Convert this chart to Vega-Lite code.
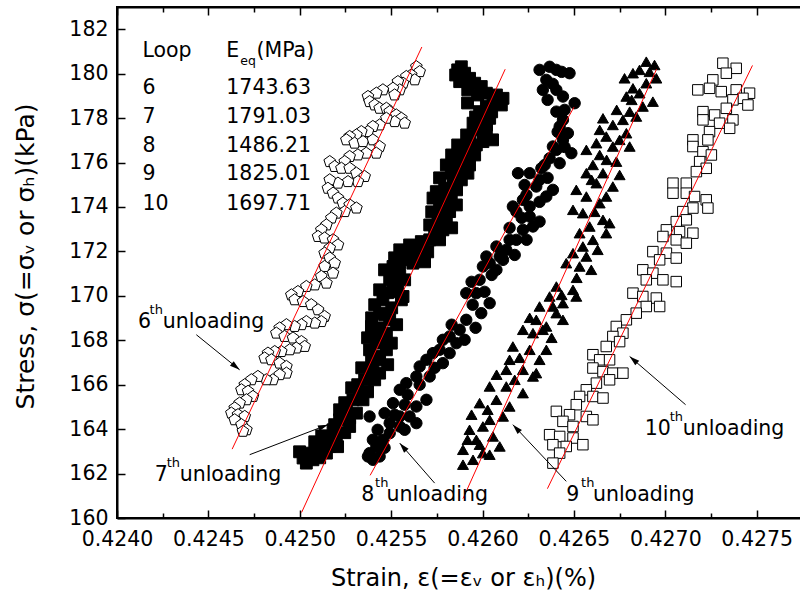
{
  "$schema": "https://vega.github.io/schema/vega-lite/v6.json",
  "width": 700,
  "height": 511,
  "autosize": {"type": "none"},
  "padding": {"left": 117, "top": 7, "right": 0, "bottom": 85},
  "background": "white",
  "config": {
    "font": "DejaVu Sans",
    "view": {"stroke": "black", "strokeWidth": 2},
    "axis": {"grid": false}
  },
  "datasets": {
    "points": [
      {"loop":6,"strain":0.425638,"stress":180.31},{"loop":6,"strain":0.425656,"stress":180.09},{"loop":6,"strain":0.425610,"stress":179.94},{"loop":6,"strain":0.425629,"stress":179.72},{"loop":6,"strain":0.425583,"stress":179.87},{"loop":6,"strain":0.425565,"stress":179.57},{"loop":6,"strain":0.425537,"stress":179.64},{"loop":6,"strain":0.425547,"stress":179.27},{"loop":6,"strain":0.425510,"stress":179.34},{"loop":6,"strain":0.425519,"stress":179.04},
      {"loop":6,"strain":0.425455,"stress":179.27},{"loop":6,"strain":0.425419,"stress":179.12},{"loop":6,"strain":0.425373,"stress":178.97},{"loop":6,"strain":0.425382,"stress":178.74},{"loop":6,"strain":0.425410,"stress":178.59},{"loop":6,"strain":0.425437,"stress":178.44},{"loop":6,"strain":0.425474,"stress":178.44},{"loop":6,"strain":0.425492,"stress":178.29},{"loop":6,"strain":0.425528,"stress":178.14},{"loop":6,"strain":0.425556,"stress":177.99},
      {"loop":6,"strain":0.425574,"stress":177.77},{"loop":6,"strain":0.425519,"stress":177.84},{"loop":6,"strain":0.425474,"stress":177.99},{"loop":6,"strain":0.425437,"stress":177.69},{"loop":6,"strain":0.425400,"stress":177.62},{"loop":6,"strain":0.425373,"stress":177.39},{"loop":6,"strain":0.425337,"stress":177.39},{"loop":6,"strain":0.425310,"stress":177.24},{"loop":6,"strain":0.425273,"stress":177.17},{"loop":6,"strain":0.425255,"stress":177.02},
      {"loop":6,"strain":0.425300,"stress":176.87},{"loop":6,"strain":0.425346,"stress":176.94},{"loop":6,"strain":0.425400,"stress":177.02},{"loop":6,"strain":0.425437,"stress":176.72},{"loop":6,"strain":0.425419,"stress":176.42},{"loop":6,"strain":0.425364,"stress":176.42},{"loop":6,"strain":0.425318,"stress":176.34},{"loop":6,"strain":0.425273,"stress":176.27},{"loop":6,"strain":0.425246,"stress":176.04},{"loop":6,"strain":0.425164,"stress":176.04},
      {"loop":6,"strain":0.425191,"stress":175.82},{"loop":6,"strain":0.425228,"stress":175.74},{"loop":6,"strain":0.425273,"stress":175.74},{"loop":6,"strain":0.425310,"stress":175.52},{"loop":6,"strain":0.425355,"stress":175.37},{"loop":6,"strain":0.425318,"stress":175.14},{"loop":6,"strain":0.425264,"stress":175.14},{"loop":6,"strain":0.425209,"stress":175.07},{"loop":6,"strain":0.425164,"stress":175.22},{"loop":6,"strain":0.425154,"stress":174.84},
      {"loop":6,"strain":0.425182,"stress":174.62},{"loop":6,"strain":0.425209,"stress":174.40},{"loop":6,"strain":0.425236,"stress":174.17},{"loop":6,"strain":0.425273,"stress":174.09},{"loop":6,"strain":0.425310,"stress":173.95},{"loop":6,"strain":0.425246,"stress":173.79},{"loop":6,"strain":0.425200,"stress":173.72},{"loop":6,"strain":0.425173,"stress":173.50},{"loop":6,"strain":0.425146,"stress":173.19},{"loop":6,"strain":0.425118,"stress":172.97},
      {"loop":6,"strain":0.425100,"stress":172.67},{"loop":6,"strain":0.425136,"stress":172.60},{"loop":6,"strain":0.425182,"stress":172.52},{"loop":6,"strain":0.425209,"stress":172.29},{"loop":6,"strain":0.425164,"stress":172.15},{"loop":6,"strain":0.425136,"stress":171.92},{"loop":6,"strain":0.425164,"stress":171.70},{"loop":6,"strain":0.425191,"stress":171.47},{"loop":6,"strain":0.425136,"stress":171.32},{"loop":6,"strain":0.425182,"stress":171.02},
      {"loop":6,"strain":0.425118,"stress":170.87},{"loop":6,"strain":0.425146,"stress":170.57},{"loop":6,"strain":0.425082,"stress":170.49},{"loop":6,"strain":0.425036,"stress":170.42},{"loop":6,"strain":0.424990,"stress":170.19},{"loop":6,"strain":0.424954,"stress":170.04},{"loop":6,"strain":0.424972,"stress":169.82},{"loop":6,"strain":0.425018,"stress":169.74},{"loop":6,"strain":0.425063,"stress":169.60},{"loop":6,"strain":0.425100,"stress":169.37},
      {"loop":6,"strain":0.425136,"stress":169.07},{"loop":6,"strain":0.425118,"stress":168.84},{"loop":6,"strain":0.425082,"stress":168.77},{"loop":6,"strain":0.425036,"stress":168.84},{"loop":6,"strain":0.425009,"stress":168.70},{"loop":6,"strain":0.424972,"stress":168.62},{"loop":6,"strain":0.424927,"stress":168.70},{"loop":6,"strain":0.424890,"stress":168.55},{"loop":6,"strain":0.424872,"stress":168.32},{"loop":6,"strain":0.424917,"stress":168.17},
      {"loop":6,"strain":0.424963,"stress":168.10},{"loop":6,"strain":0.425009,"stress":167.94},{"loop":6,"strain":0.425027,"stress":167.72},{"loop":6,"strain":0.424981,"stress":167.65},{"loop":6,"strain":0.424945,"stress":167.57},{"loop":6,"strain":0.424899,"stress":167.49},{"loop":6,"strain":0.424863,"stress":167.49},{"loop":6,"strain":0.424826,"stress":167.42},{"loop":6,"strain":0.424808,"stress":167.20},{"loop":6,"strain":0.424845,"stress":167.12},
      {"loop":6,"strain":0.424890,"stress":166.97},{"loop":6,"strain":0.424927,"stress":166.82},{"loop":6,"strain":0.424927,"stress":166.52},{"loop":6,"strain":0.424890,"stress":166.45},{"loop":6,"strain":0.424853,"stress":166.22},{"loop":6,"strain":0.424817,"stress":166.22},{"loop":6,"strain":0.424771,"stress":166.37},{"loop":6,"strain":0.424735,"stress":166.22},{"loop":6,"strain":0.424699,"stress":166.00},{"loop":6,"strain":0.424681,"stress":165.77},
      {"loop":6,"strain":0.424717,"stress":165.70},{"loop":6,"strain":0.424744,"stress":165.47},{"loop":6,"strain":0.424708,"stress":165.32},{"loop":6,"strain":0.424671,"stress":165.17},{"loop":6,"strain":0.424644,"stress":164.95},{"loop":6,"strain":0.424626,"stress":164.72},{"loop":6,"strain":0.424662,"stress":164.65},{"loop":6,"strain":0.424699,"stress":164.57},{"loop":6,"strain":0.424644,"stress":164.42},{"loop":6,"strain":0.424681,"stress":164.20},
      {"loop":6,"strain":0.424708,"stress":163.97},{"loop":6,"strain":0.424689,"stress":163.90},

      {"loop":7,"strain":0.425884,"stress":180.31},{"loop":7,"strain":0.425864,"stress":180.17},{"loop":7,"strain":0.425902,"stress":180.02},{"loop":7,"strain":0.425853,"stress":179.94},{"loop":7,"strain":0.425875,"stress":179.64},{"loop":7,"strain":0.425929,"stress":179.79},{"loop":7,"strain":0.425957,"stress":179.57},{"loop":7,"strain":0.425993,"stress":179.42},{"loop":7,"strain":0.425919,"stress":179.27},{"loop":7,"strain":0.426021,"stress":179.12},{"loop":7,"strain":0.426076,"stress":179.04},{"loop":7,"strain":0.425973,"stress":179.04},
      {"loop":7,"strain":0.426112,"stress":178.89},{"loop":7,"strain":0.426103,"stress":178.59},{"loop":7,"strain":0.426057,"stress":178.67},{"loop":7,"strain":0.425918,"stress":178.68},{"loop":7,"strain":0.426021,"stress":178.52},{"loop":7,"strain":0.425984,"stress":178.29},{"loop":7,"strain":0.426050,"stress":178.28},{"loop":7,"strain":0.425962,"stress":178.05},{"loop":7,"strain":0.426002,"stress":177.92},{"loop":7,"strain":0.426039,"stress":177.99},{"loop":7,"strain":0.425948,"stress":177.77},{"loop":7,"strain":0.426022,"stress":177.69},{"loop":7,"strain":0.425975,"stress":177.47},{"loop":7,"strain":0.426021,"stress":177.32},{"loop":7,"strain":0.425913,"stress":177.24},
      {"loop":7,"strain":0.425929,"stress":177.02},{"loop":7,"strain":0.426055,"stress":177.02},{"loop":7,"strain":0.426002,"stress":176.94},{"loop":7,"strain":0.425966,"stress":176.79},{"loop":7,"strain":0.425864,"stress":176.79},{"loop":7,"strain":0.425920,"stress":176.57},{"loop":7,"strain":0.425957,"stress":176.34},{"loop":7,"strain":0.425831,"stress":176.34},{"loop":7,"strain":0.425893,"stress":176.27},{"loop":7,"strain":0.425847,"stress":176.04},{"loop":7,"strain":0.425886,"stress":175.89},{"loop":7,"strain":0.425929,"stress":175.89},{"loop":7,"strain":0.425802,"stress":175.89},{"loop":7,"strain":0.425829,"stress":175.52},{"loop":7,"strain":0.425875,"stress":175.59},
      {"loop":7,"strain":0.425920,"stress":175.52},{"loop":7,"strain":0.425765,"stress":175.31},{"loop":7,"strain":0.425884,"stress":175.22},{"loop":7,"strain":0.425838,"stress":174.99},{"loop":7,"strain":0.425793,"stress":174.84},{"loop":7,"strain":0.425858,"stress":174.77},{"loop":7,"strain":0.425747,"stress":174.69},{"loop":7,"strain":0.425729,"stress":174.40},{"loop":7,"strain":0.425775,"stress":174.32},{"loop":7,"strain":0.425829,"stress":174.40},{"loop":7,"strain":0.425793,"stress":174.18},{"loop":7,"strain":0.425857,"stress":174.09},{"loop":7,"strain":0.425765,"stress":174.00},
      {"loop":7,"strain":0.425820,"stress":173.79},{"loop":7,"strain":0.425722,"stress":173.78},{"loop":7,"strain":0.425775,"stress":173.72},{"loop":7,"strain":0.425756,"stress":173.34},{"loop":7,"strain":0.425802,"stress":173.34},{"loop":7,"strain":0.425711,"stress":173.19},{"loop":7,"strain":0.425831,"stress":173.06},{"loop":7,"strain":0.425783,"stress":172.97},{"loop":7,"strain":0.425738,"stress":172.82},{"loop":7,"strain":0.425711,"stress":172.52},{"loop":7,"strain":0.425765,"stress":172.52},{"loop":7,"strain":0.425665,"stress":172.44},{"loop":7,"strain":0.425674,"stress":172.15},{"loop":7,"strain":0.425601,"stress":172.29},{"loop":7,"strain":0.425547,"stress":172.07},
      {"loop":7,"strain":0.425619,"stress":171.99},{"loop":7,"strain":0.425700,"stress":171.98},{"loop":7,"strain":0.425645,"stress":171.84},{"loop":7,"strain":0.425583,"stress":171.77},{"loop":7,"strain":0.425519,"stress":171.71},{"loop":7,"strain":0.425547,"stress":171.54},{"loop":7,"strain":0.425683,"stress":171.53},{"loop":7,"strain":0.425510,"stress":171.32},{"loop":7,"strain":0.425592,"stress":171.62},{"loop":7,"strain":0.425619,"stress":171.47},{"loop":7,"strain":0.425464,"stress":171.17},{"loop":7,"strain":0.425547,"stress":171.02},{"loop":7,"strain":0.425519,"stress":171.02},{"loop":7,"strain":0.425574,"stress":170.72},{"loop":7,"strain":0.425492,"stress":170.72},{"loop":7,"strain":0.425525,"stress":170.58},{"loop":7,"strain":0.425510,"stress":170.42},
      {"loop":7,"strain":0.425437,"stress":170.27},{"loop":7,"strain":0.425536,"stress":170.18},{"loop":7,"strain":0.425481,"stress":170.14},{"loop":7,"strain":0.425565,"stress":169.97},{"loop":7,"strain":0.425556,"stress":169.82},{"loop":7,"strain":0.425455,"stress":169.82},{"loop":7,"strain":0.425410,"stress":169.60},{"loop":7,"strain":0.425503,"stress":169.46},{"loop":7,"strain":0.425437,"stress":169.22},{"loop":7,"strain":0.425464,"stress":169.15},{"loop":7,"strain":0.425393,"stress":169.01},{"loop":7,"strain":0.425492,"stress":168.92},{"loop":7,"strain":0.425530,"stress":168.70},{"loop":7,"strain":0.425392,"stress":168.62},{"loop":7,"strain":0.425437,"stress":168.56},{"loop":7,"strain":0.425474,"stress":168.32},{"loop":7,"strain":0.425410,"stress":168.25},{"loop":7,"strain":0.425371,"stress":168.11},{"loop":7,"strain":0.425448,"stress":168.02},{"loop":7,"strain":0.425419,"stress":167.87},
      {"loop":7,"strain":0.425501,"stress":167.87},{"loop":7,"strain":0.425474,"stress":167.57},{"loop":7,"strain":0.425382,"stress":167.57},{"loop":7,"strain":0.425428,"stress":167.27},{"loop":7,"strain":0.425437,"stress":167.12},{"loop":7,"strain":0.425393,"stress":167.12},{"loop":7,"strain":0.425481,"stress":166.90},{"loop":7,"strain":0.425339,"stress":166.76},{"loop":7,"strain":0.425400,"stress":166.67},{"loop":7,"strain":0.425437,"stress":166.52},{"loop":7,"strain":0.425355,"stress":166.22},{"loop":7,"strain":0.425410,"stress":166.22},{"loop":7,"strain":0.425317,"stress":166.00},{"loop":7,"strain":0.425284,"stress":165.86},{"loop":7,"strain":0.425371,"stress":165.68},{"loop":7,"strain":0.425328,"stress":165.62},
      {"loop":7,"strain":0.425346,"stress":165.32},{"loop":7,"strain":0.425291,"stress":165.32},{"loop":7,"strain":0.425246,"stress":165.19},{"loop":7,"strain":0.425255,"stress":164.87},{"loop":7,"strain":0.425218,"stress":164.87},{"loop":7,"strain":0.425310,"stress":164.72},{"loop":7,"strain":0.425235,"stress":164.51},{"loop":7,"strain":0.425273,"stress":164.51},{"loop":7,"strain":0.425218,"stress":164.42},{"loop":7,"strain":0.425191,"stress":164.20},{"loop":7,"strain":0.425273,"stress":164.12},{"loop":7,"strain":0.425182,"stress":163.97},{"loop":7,"strain":0.425246,"stress":163.84},{"loop":7,"strain":0.425120,"stress":163.70},{"loop":7,"strain":0.425200,"stress":163.52},
      {"loop":7,"strain":0.425154,"stress":163.67},{"loop":7,"strain":0.425136,"stress":163.43},{"loop":7,"strain":0.425082,"stress":163.43},{"loop":7,"strain":0.425164,"stress":163.22},{"loop":7,"strain":0.425207,"stress":163.21},{"loop":7,"strain":0.425109,"stress":163.07},{"loop":7,"strain":0.424999,"stress":162.98},{"loop":7,"strain":0.425054,"stress":162.92},{"loop":7,"strain":0.425018,"stress":162.70},{"loop":7,"strain":0.425109,"stress":162.71},{"loop":7,"strain":0.425072,"stress":162.62},{"loop":7,"strain":0.425146,"stress":162.92},{"loop":7,"strain":0.425036,"stress":162.47},

      {"loop":8,"strain":0.426312,"stress":180.17},{"loop":8,"strain":0.426367,"stress":180.31},{"loop":8,"strain":0.426404,"stress":180.17},{"loop":8,"strain":0.426433,"stress":180.08},{"loop":8,"strain":0.426476,"stress":180.02},{"loop":8,"strain":0.426349,"stress":179.72},{"loop":8,"strain":0.426384,"stress":179.54},{"loop":8,"strain":0.426330,"stress":179.27},{"loop":8,"strain":0.426404,"stress":179.27},{"loop":8,"strain":0.426440,"stress":178.97},{"loop":8,"strain":0.426356,"stress":178.82},{"loop":8,"strain":0.426504,"stress":178.67},{"loop":8,"strain":0.426449,"stress":178.37},{"loop":8,"strain":0.426404,"stress":178.29},
      {"loop":8,"strain":0.426440,"stress":177.92},{"loop":8,"strain":0.426422,"stress":177.62},{"loop":8,"strain":0.426411,"stress":177.38},{"loop":8,"strain":0.426467,"stress":177.32},{"loop":8,"strain":0.426440,"stress":177.02},{"loop":8,"strain":0.426385,"stress":176.72},{"loop":8,"strain":0.426449,"stress":176.70},{"loop":8,"strain":0.426486,"stress":176.42},{"loop":8,"strain":0.426404,"stress":176.57},{"loop":8,"strain":0.426367,"stress":176.19},{"loop":8,"strain":0.426422,"stress":175.97},{"loop":8,"strain":0.426340,"stress":175.89},{"loop":8,"strain":0.426322,"stress":175.74},
      {"loop":8,"strain":0.426258,"stress":175.52},{"loop":8,"strain":0.426194,"stress":175.52},{"loop":8,"strain":0.426356,"stress":175.31},{"loop":8,"strain":0.426312,"stress":175.22},{"loop":8,"strain":0.426230,"stress":174.99},{"loop":8,"strain":0.426294,"stress":174.92},{"loop":8,"strain":0.426240,"stress":174.54},{"loop":8,"strain":0.426385,"stress":174.77},{"loop":8,"strain":0.426349,"stress":174.47},{"loop":8,"strain":0.426221,"stress":174.32},{"loop":8,"strain":0.426312,"stress":174.23},{"loop":8,"strain":0.426258,"stress":174.02},{"loop":8,"strain":0.426166,"stress":174.02},
      {"loop":8,"strain":0.426185,"stress":173.79},{"loop":8,"strain":0.426258,"stress":173.57},{"loop":8,"strain":0.426214,"stress":173.51},{"loop":8,"strain":0.426312,"stress":173.34},{"loop":8,"strain":0.426276,"stress":173.12},{"loop":8,"strain":0.426148,"stress":173.06},{"loop":8,"strain":0.426221,"stress":172.97},{"loop":8,"strain":0.426185,"stress":172.52},{"loop":8,"strain":0.426241,"stress":172.52},{"loop":8,"strain":0.426148,"stress":172.52},{"loop":8,"strain":0.426130,"stress":172.07},{"loop":8,"strain":0.426076,"stress":172.22},{"loop":8,"strain":0.426176,"stress":171.84},{"loop":8,"strain":0.426094,"stress":171.77},
      {"loop":8,"strain":0.426021,"stress":171.77},{"loop":8,"strain":0.426112,"stress":171.62},{"loop":8,"strain":0.426002,"stress":171.32},{"loop":8,"strain":0.426076,"stress":171.17},{"loop":8,"strain":0.426039,"stress":171.47},{"loop":8,"strain":0.426050,"stress":170.94},{"loop":8,"strain":0.425984,"stress":170.72},{"loop":8,"strain":0.425940,"stress":170.63},{"loop":8,"strain":0.426011,"stress":170.18},{"loop":8,"strain":0.425911,"stress":170.12},{"loop":8,"strain":0.425966,"stress":170.12},{"loop":8,"strain":0.426039,"stress":169.67},{"loop":8,"strain":0.425946,"stress":169.60},{"loop":8,"strain":0.425993,"stress":169.22},
      {"loop":8,"strain":0.425911,"stress":168.92},{"loop":8,"strain":0.425831,"stress":168.70},{"loop":8,"strain":0.425962,"stress":168.56},{"loop":8,"strain":0.425875,"stress":168.47},{"loop":8,"strain":0.425820,"stress":168.17},{"loop":8,"strain":0.425783,"stress":168.02},{"loop":8,"strain":0.425902,"stress":168.02},{"loop":8,"strain":0.425857,"stress":167.87},{"loop":8,"strain":0.425765,"stress":167.57},{"loop":8,"strain":0.425820,"stress":167.42},{"loop":8,"strain":0.425729,"stress":167.42},{"loop":8,"strain":0.425693,"stress":167.12},{"loop":8,"strain":0.425783,"stress":166.97},{"loop":8,"strain":0.425656,"stress":166.82},{"loop":8,"strain":0.425738,"stress":166.76},
      {"loop":8,"strain":0.425638,"stress":166.37},{"loop":8,"strain":0.425711,"stress":166.37},{"loop":8,"strain":0.425583,"stress":166.07},{"loop":8,"strain":0.425656,"stress":166.00},{"loop":8,"strain":0.425547,"stress":165.77},{"loop":8,"strain":0.425590,"stress":165.55},{"loop":8,"strain":0.425693,"stress":165.32},{"loop":8,"strain":0.425574,"stress":165.10},{"loop":8,"strain":0.425638,"stress":165.02},{"loop":8,"strain":0.425510,"stress":165.17},{"loop":8,"strain":0.425519,"stress":164.65},{"loop":8,"strain":0.425601,"stress":164.57},{"loop":8,"strain":0.425638,"stress":164.27},{"loop":8,"strain":0.425547,"stress":164.12},{"loop":8,"strain":0.425574,"stress":163.97},
      {"loop":8,"strain":0.425547,"stress":164.57},{"loop":8,"strain":0.425492,"stress":163.82},{"loop":8,"strain":0.425426,"stress":163.97},{"loop":8,"strain":0.425492,"stress":164.27},{"loop":8,"strain":0.425455,"stress":163.52},{"loop":8,"strain":0.425419,"stress":163.22},{"loop":8,"strain":0.425464,"stress":163.16},{"loop":8,"strain":0.425382,"stress":162.92},{"loop":8,"strain":0.425437,"stress":162.77},{"loop":8,"strain":0.425400,"stress":162.62},{"loop":8,"strain":0.425382,"stress":164.57},{"loop":8,"strain":0.425464,"stress":164.72},
      {"loop":8,"strain":0.425400,"stress":163.52},{"loop":8,"strain":0.425373,"stress":162.77},

      {"loop":9,"strain":0.426896,"stress":180.54},{"loop":9,"strain":0.426941,"stress":180.39},{"loop":9,"strain":0.426859,"stress":180.17},{"loop":9,"strain":0.426914,"stress":180.08},{"loop":9,"strain":0.426823,"stress":180.02},{"loop":9,"strain":0.426777,"stress":179.79},{"loop":9,"strain":0.426951,"stress":179.79},{"loop":9,"strain":0.426896,"stress":179.57},{"loop":9,"strain":0.426823,"stress":179.34},{"loop":9,"strain":0.426859,"stress":179.12},{"loop":9,"strain":0.426787,"stress":178.97},{"loop":9,"strain":0.426816,"stress":178.82},
      {"loop":9,"strain":0.426932,"stress":178.74},{"loop":9,"strain":0.426877,"stress":178.52},{"loop":9,"strain":0.426734,"stress":178.37},{"loop":9,"strain":0.426805,"stress":178.29},{"loop":9,"strain":0.426841,"stress":178.07},{"loop":9,"strain":0.426768,"stress":177.92},{"loop":9,"strain":0.426659,"stress":177.99},{"loop":9,"strain":0.426713,"stress":177.69},{"loop":9,"strain":0.426641,"stress":177.47},{"loop":9,"strain":0.426677,"stress":177.17},{"loop":9,"strain":0.426787,"stress":177.32},{"loop":9,"strain":0.426750,"stress":177.02},
      {"loop":9,"strain":0.426623,"stress":176.87},{"loop":9,"strain":0.426568,"stress":176.57},{"loop":9,"strain":0.426713,"stress":176.72},{"loop":9,"strain":0.426805,"stress":176.72},{"loop":9,"strain":0.426641,"stress":176.34},{"loop":9,"strain":0.426679,"stress":176.12},{"loop":9,"strain":0.426732,"stress":176.04},{"loop":9,"strain":0.426604,"stress":175.89},{"loop":9,"strain":0.426568,"stress":175.52},{"loop":9,"strain":0.426659,"stress":175.52},{"loop":9,"strain":0.426750,"stress":175.44},{"loop":9,"strain":0.426597,"stress":175.22},{"loop":9,"strain":0.426623,"stress":175.07},
      {"loop":9,"strain":0.426713,"stress":174.92},{"loop":9,"strain":0.426513,"stress":174.77},{"loop":9,"strain":0.426568,"stress":174.47},{"loop":9,"strain":0.426677,"stress":174.47},{"loop":9,"strain":0.426641,"stress":174.17},{"loop":9,"strain":0.426495,"stress":173.87},{"loop":9,"strain":0.426613,"stress":173.78},{"loop":9,"strain":0.426549,"stress":173.72},{"loop":9,"strain":0.426659,"stress":173.42},{"loop":9,"strain":0.426695,"stress":173.27},{"loop":9,"strain":0.426586,"stress":173.12},
      {"loop":9,"strain":0.426531,"stress":172.82},{"loop":9,"strain":0.426677,"stress":172.82},{"loop":9,"strain":0.426604,"stress":172.52},{"loop":9,"strain":0.426549,"stress":172.22},{"loop":9,"strain":0.426630,"stress":172.07},{"loop":9,"strain":0.426495,"stress":171.92},{"loop":9,"strain":0.426568,"stress":171.77},{"loop":9,"strain":0.426458,"stress":171.47},{"loop":9,"strain":0.426531,"stress":171.32},{"loop":9,"strain":0.426595,"stress":171.17},{"loop":9,"strain":0.426515,"stress":170.81},{"loop":9,"strain":0.426404,"stress":170.42},
      {"loop":9,"strain":0.426495,"stress":170.27},{"loop":9,"strain":0.426433,"stress":170.04},{"loop":9,"strain":0.426367,"stress":169.97},{"loop":9,"strain":0.426513,"stress":169.97},{"loop":9,"strain":0.426440,"stress":169.67},{"loop":9,"strain":0.426312,"stress":169.52},{"loop":9,"strain":0.426385,"stress":169.52},{"loop":9,"strain":0.426404,"stress":169.22},{"loop":9,"strain":0.426258,"stress":169.01},{"loop":9,"strain":0.426294,"stress":168.92},{"loop":9,"strain":0.426440,"stress":168.92},{"loop":9,"strain":0.426349,"stress":168.62},
      {"loop":9,"strain":0.426221,"stress":168.47},{"loop":9,"strain":0.426330,"stress":168.47},{"loop":9,"strain":0.426276,"stress":168.32},{"loop":9,"strain":0.426378,"stress":168.11},{"loop":9,"strain":0.426166,"stress":167.72},{"loop":9,"strain":0.426258,"stress":167.57},{"loop":9,"strain":0.426349,"stress":167.57},{"loop":9,"strain":0.426203,"stress":167.21},{"loop":9,"strain":0.426148,"stress":167.12},{"loop":9,"strain":0.426312,"stress":167.12},{"loop":9,"strain":0.426130,"stress":166.67},{"loop":9,"strain":0.426221,"stress":166.67},
      {"loop":9,"strain":0.426294,"stress":166.52},{"loop":9,"strain":0.426077,"stress":166.45},{"loop":9,"strain":0.426276,"stress":166.37},{"loop":9,"strain":0.426176,"stress":166.22},{"loop":9,"strain":0.426039,"stress":165.92},{"loop":9,"strain":0.426130,"stress":165.92},{"loop":9,"strain":0.426221,"stress":165.62},{"loop":9,"strain":0.425984,"stress":165.17},{"loop":9,"strain":0.426076,"stress":165.32},{"loop":9,"strain":0.426148,"stress":165.02},{"loop":9,"strain":0.426028,"stress":164.87},{"loop":9,"strain":0.425940,"stress":164.65},{"loop":9,"strain":0.426112,"stress":164.57},{"loop":9,"strain":0.426039,"stress":164.42},
      {"loop":9,"strain":0.426002,"stress":164.12},{"loop":9,"strain":0.425929,"stress":163.97},{"loop":9,"strain":0.426057,"stress":163.67},{"loop":9,"strain":0.425966,"stress":163.52},{"loop":9,"strain":0.425918,"stress":163.52},{"loop":9,"strain":0.425984,"stress":163.30},{"loop":9,"strain":0.426094,"stress":163.22},{"loop":9,"strain":0.425893,"stress":163.07},{"loop":9,"strain":0.426002,"stress":162.92},{"loop":9,"strain":0.426039,"stress":162.85},{"loop":9,"strain":0.425948,"stress":162.62},{"loop":9,"strain":0.425893,"stress":162.40},

      {"loop":10,"strain":0.427315,"stress":180.47},{"loop":10,"strain":0.427388,"stress":180.24},{"loop":10,"strain":0.427334,"stress":180.02},{"loop":10,"strain":0.427260,"stress":179.72},{"loop":10,"strain":0.427178,"stress":179.27},{"loop":10,"strain":0.427242,"stress":179.34},{"loop":10,"strain":0.427306,"stress":179.19},{"loop":10,"strain":0.427388,"stress":179.27},{"loop":10,"strain":0.427461,"stress":179.12},{"loop":10,"strain":0.427425,"stress":178.89},
      {"loop":10,"strain":0.427452,"stress":178.59},{"loop":10,"strain":0.427370,"stress":178.82},{"loop":10,"strain":0.427334,"stress":178.44},{"loop":10,"strain":0.427206,"stress":178.29},{"loop":10,"strain":0.427270,"stress":178.14},{"loop":10,"strain":0.427206,"stress":177.92},{"loop":10,"strain":0.427370,"stress":177.92},{"loop":10,"strain":0.427297,"stress":177.77},{"loop":10,"strain":0.427352,"stress":177.54},{"loop":10,"strain":0.427242,"stress":177.39},
      {"loop":10,"strain":0.427151,"stress":177.02},{"loop":10,"strain":0.427233,"stress":177.02},{"loop":10,"strain":0.427151,"stress":176.72},{"loop":10,"strain":0.427206,"stress":176.49},{"loop":10,"strain":0.427252,"stress":176.34},{"loop":10,"strain":0.427188,"stress":176.04},{"loop":10,"strain":0.427224,"stress":175.74},{"loop":10,"strain":0.427170,"stress":175.59},{"loop":10,"strain":0.427042,"stress":175.07},{"loop":10,"strain":0.427115,"stress":175.07},
      {"loop":10,"strain":0.427042,"stress":174.62},{"loop":10,"strain":0.427115,"stress":174.62},{"loop":10,"strain":0.427160,"stress":174.47},{"loop":10,"strain":0.427224,"stress":174.32},{"loop":10,"strain":0.427151,"stress":173.95},{"loop":10,"strain":0.427233,"stress":173.95},{"loop":10,"strain":0.427096,"stress":173.79},{"loop":10,"strain":0.427115,"stress":173.42},{"loop":10,"strain":0.427060,"stress":173.34},{"loop":10,"strain":0.427006,"stress":172.97},
      {"loop":10,"strain":0.427078,"stress":172.89},{"loop":10,"strain":0.427151,"stress":172.82},{"loop":10,"strain":0.426987,"stress":172.67},{"loop":10,"strain":0.427060,"stress":172.52},{"loop":10,"strain":0.427115,"stress":172.37},{"loop":10,"strain":0.426932,"stress":171.99},{"loop":10,"strain":0.427006,"stress":171.92},{"loop":10,"strain":0.427060,"stress":171.70},{"loop":10,"strain":0.426969,"stress":171.62},{"loop":10,"strain":0.426877,"stress":171.17},
      {"loop":10,"strain":0.426932,"stress":171.02},{"loop":10,"strain":0.426987,"stress":170.72},{"loop":10,"strain":0.427060,"stress":170.64},{"loop":10,"strain":0.426896,"stress":170.72},{"loop":10,"strain":0.426823,"stress":170.12},{"loop":10,"strain":0.426877,"stress":169.97},{"loop":10,"strain":0.426951,"stress":169.90},{"loop":10,"strain":0.426969,"stress":169.52},{"loop":10,"strain":0.426896,"stress":169.52},{"loop":10,"strain":0.426841,"stress":169.22},
      {"loop":10,"strain":0.426787,"stress":168.92},{"loop":10,"strain":0.426732,"stress":168.62},{"loop":10,"strain":0.426768,"stress":168.32},{"loop":10,"strain":0.426713,"stress":168.17},{"loop":10,"strain":0.426750,"stress":167.94},{"loop":10,"strain":0.426677,"stress":167.72},{"loop":10,"strain":0.426604,"stress":167.35},{"loop":10,"strain":0.426641,"stress":167.12},{"loop":10,"strain":0.426695,"stress":167.12},{"loop":10,"strain":0.426604,"stress":166.75},
      {"loop":10,"strain":0.426659,"stress":166.59},{"loop":10,"strain":0.426713,"stress":166.52},{"loop":10,"strain":0.426768,"stress":166.52},{"loop":10,"strain":0.426695,"stress":166.22},{"loop":10,"strain":0.426623,"stress":166.07},{"loop":10,"strain":0.426568,"stress":165.77},{"loop":10,"strain":0.426531,"stress":165.47},{"loop":10,"strain":0.426604,"stress":165.47},{"loop":10,"strain":0.426659,"stress":165.40},{"loop":10,"strain":0.426513,"stress":165.10},
      {"loop":10,"strain":0.426404,"stress":164.80},{"loop":10,"strain":0.426476,"stress":164.65},{"loop":10,"strain":0.426568,"stress":164.57},{"loop":10,"strain":0.426604,"stress":164.42},{"loop":10,"strain":0.426440,"stress":164.35},{"loop":10,"strain":0.426495,"stress":164.12},{"loop":10,"strain":0.426367,"stress":163.75},{"loop":10,"strain":0.426422,"stress":163.67},{"loop":10,"strain":0.426495,"stress":163.60},{"loop":10,"strain":0.426549,"stress":163.30},
      {"loop":10,"strain":0.426458,"stress":163.22},{"loop":10,"strain":0.426385,"stress":163.30},{"loop":10,"strain":0.426422,"stress":162.92},{"loop":10,"strain":0.426385,"stress":162.47}
    ],
    "fits": [
      {"loop":6,"strain":0.424630,"stress":163.10},{"loop":6,"strain":0.425668,"stress":181.20},
      {"loop":7,"strain":0.425010,"stress":160.25},{"loop":7,"strain":0.426124,"stress":180.20},
      {"loop":8,"strain":0.425385,"stress":161.92},{"loop":8,"strain":0.426500,"stress":178.49},
      {"loop":9,"strain":0.425893,"stress":160.87},{"loop":9,"strain":0.426952,"stress":180.20},
      {"loop":10,"strain":0.426355,"stress":161.32},{"loop":10,"strain":0.427477,"stress":180.37}
    ],
    "arrows": [
      {"from_strain":0.424434,"from_stress":168.25,"to_strain":0.424671,"to_stress":166.67,"heading":128.9},
      {"from_strain":0.424726,"from_stress":162.85,"to_strain":0.425154,"to_stress":164.20,"heading":69.0},
      {"from_strain":0.425738,"from_stress":161.57,"to_strain":0.425547,"to_stress":163.37,"heading":318.8},
      {"from_strain":0.426458,"from_stress":161.65,"to_strain":0.426166,"to_stress":164.20,"heading":316.7},
      {"from_strain":0.427111,"from_stress":165.10,"to_strain":0.426805,"to_stress":167.27,"heading":310.8}
    ],
    "notes": [
      {"strain":0.424139,"stress":180.76,"text":"Loop"},
      {"strain":0.424598,"stress":180.76,"text":"E"},
      {"strain":0.424763,"stress":180.76,"text":"(MPa)"},
      {"strain":0.424139,"stress":179.07,"text":"6"},{"strain":0.424598,"stress":179.07,"text":"1743.63"},
      {"strain":0.424139,"stress":177.77,"text":"7"},{"strain":0.424598,"stress":177.77,"text":"1791.03"},
      {"strain":0.424139,"stress":176.49,"text":"8"},{"strain":0.424598,"stress":176.49,"text":"1486.21"},
      {"strain":0.424139,"stress":175.22,"text":"9"},{"strain":0.424598,"stress":175.22,"text":"1825.01"},
      {"strain":0.424139,"stress":173.87,"text":"10"},{"strain":0.424598,"stress":173.87,"text":"1697.71"},
      {"strain":0.424115,"stress":168.55,"text":"6"},{"strain":0.424250,"stress":168.55,"text":"unloading"},
      {"strain":0.424206,"stress":161.65,"text":"7"},{"strain":0.424343,"stress":161.65,"text":"unloading"},
      {"strain":0.425337,"stress":160.76,"text":"8"},{"strain":0.425474,"stress":160.76,"text":"unloading"},
      {"strain":0.426458,"stress":160.75,"text":"9"},{"strain":0.426604,"stress":160.75,"text":"unloading"},
      {"strain":0.426887,"stress":163.75,"text":"10"},{"strain":0.427096,"stress":163.75,"text":"unloading"}
    ],
    "superscripts": [
      {"strain":0.424178,"stress":168.55,"text":"th"},
      {"strain":0.424272,"stress":161.65,"text":"th"},
      {"strain":0.425412,"stress":160.76,"text":"th"},
      {"strain":0.426539,"stress":160.75,"text":"th"},
      {"strain":0.427024,"stress":163.75,"text":"th"}
    ],
    "subscripts": [
      {"strain":0.424675,"stress":180.76,"text":"eq"}
    ]
  },
  "resolve": {"axis": {"x": "independent"}},
  "layer": [
    {
      "data": {"name": "points"},
      "mark": {"type": "point", "filled": true, "opacity": 1, "stroke": "black", "strokeWidth": 1},
      "encoding": {
        "x": {
          "field": "strain", "type": "quantitative",
          "scale": {"domain": [0.424, 0.42783], "nice": false, "zero": false},
          "axis": {
            "orient": "bottom",
            "values": [0.424, 0.42425, 0.4245, 0.42475, 0.425, 0.42525, 0.4255, 0.42575, 0.426, 0.42625, 0.4265, 0.42675, 0.427, 0.42725, 0.4275, 0.42775],
            "format": ".4f",
            "labelExpr": "round(datum.value * 100000) % 50 === 0 ? datum.label : ''",
            "tickSize": {"condition": {"test": "round(datum.value * 100000) % 50 === 0", "value": -8}, "value": -5},
            "tickWidth": 1.5, "tickColor": "black",
            "domainColor": "black", "domainWidth": 2,
            "labelPadding": 19, "labelFontSize": 20.5, "labelFont": "DejaVu Sans", "labelColor": "black",
            "labelFlush": false, "labelOverlap": false, "labelBound": false,
            "title": "Strain, ε(=εᵥ or εₕ)(%)",
            "titleFont": "DejaVu Sans", "titleFontSize": 24, "titleFontWeight": "normal", "titleColor": "black",
            "titleX": 346, "titleY": 67, "titleAlign": "center", "titleBaseline": "alphabetic"
          }
        },
        "y": {
          "field": "stress", "type": "quantitative",
          "scale": {"domain": [160, 183], "nice": false, "zero": false},
          "axis": {
            "orient": "left",
            "values": [160,161,162,163,164,165,166,167,168,169,170,171,172,173,174,175,176,177,178,179,180,181,182],
            "format": "d",
            "labelExpr": "datum.value % 2 === 0 ? datum.label : ''",
            "tickSize": {"condition": {"test": "datum.value % 2 === 0", "value": -8}, "value": -5},
            "tickWidth": 1.5, "tickColor": "black",
            "domainColor": "black", "domainWidth": 2,
            "labelPadding": 17, "labelFontSize": 20.5, "labelFont": "DejaVu Sans", "labelColor": "black",
            "labelFlush": false, "labelOverlap": false, "labelBound": false,
            "title": "Stress, σ(=σᵥ or σₕ)(kPa)",
            "titleFont": "DejaVu Sans", "titleFontSize": 25, "titleFontWeight": "normal", "titleColor": "black",
            "titleX": -84, "titleY": 249, "titleAngle": 270, "titleAlign": "center", "titleBaseline": "alphabetic"
          }
        },
        "shape": {
          "field": "loop", "type": "nominal",
          "scale": {"domain": [6, 7, 8, 9, 10], "range": ["M0,-1L0.951,-0.309L0.588,0.809L-0.588,0.809L-0.951,-0.309Z", "square", "circle", "triangle-up", "square"]},
          "legend": null
        },
        "fill": {
          "field": "loop", "type": "nominal",
          "scale": {"domain": [6, 7, 8, 9, 10], "range": ["white", "black", "black", "black", "white"]},
          "legend": null
        },
        "size": {
          "field": "loop", "type": "ordinal",
          "scale": {"domain": [6, 7, 8, 9, 10], "range": [150, 110, 130, 165, 80]},
          "legend": null
        }
      }
    },
    {
      "data": {"name": "fits"},
      "mark": {"type": "line", "color": "#ff0000", "strokeWidth": 1},
      "encoding": {
        "x": {
          "field": "strain", "type": "quantitative",
          "axis": {
            "orient": "top",
            "values": [0.424, 0.42425, 0.4245, 0.42475, 0.425, 0.42525, 0.4255, 0.42575, 0.426, 0.42625, 0.4265, 0.42675, 0.427, 0.42725, 0.4275, 0.42775],
            "labels": false, "title": null,
            "tickSize": {"condition": {"test": "round(datum.value * 100000) % 50 === 0", "value": -8}, "value": -5},
            "tickWidth": 1.5, "tickColor": "black",
            "domainColor": "black", "domainWidth": 2
          }
        },
        "y": {"field": "stress", "type": "quantitative"},
        "detail": {"field": "loop", "type": "nominal"}
      }
    },
    {
      "data": {"name": "arrows"},
      "mark": {"type": "rule", "color": "black", "strokeWidth": 1},
      "encoding": {
        "x": {"field": "from_strain", "type": "quantitative", "axis": null},
        "y": {"field": "from_stress", "type": "quantitative"},
        "x2": {"field": "to_strain"},
        "y2": {"field": "to_stress"}
      }
    },
    {
      "data": {"name": "arrows"},
      "mark": {"type": "point", "shape": "M0,0L0.6,2L-0.6,2Z", "filled": true, "fill": "black", "strokeWidth": 0, "opacity": 1, "size": 100},
      "encoding": {
        "x": {"field": "to_strain", "type": "quantitative", "axis": null},
        "y": {"field": "to_stress", "type": "quantitative"},
        "angle": {"field": "heading", "type": "quantitative", "scale": null}
      }
    },
    {
      "data": {"name": "notes"},
      "mark": {"type": "text", "align": "left", "baseline": "alphabetic", "font": "DejaVu Sans", "fontSize": 20.5, "color": "black"},
      "encoding": {
        "x": {"field": "strain", "type": "quantitative", "axis": null},
        "y": {"field": "stress", "type": "quantitative"},
        "text": {"field": "text"}
      }
    },
    {
      "data": {"name": "superscripts"},
      "mark": {"type": "text", "align": "left", "baseline": "alphabetic", "font": "DejaVu Sans", "fontSize": 13, "dy": -14, "color": "black"},
      "encoding": {
        "x": {"field": "strain", "type": "quantitative", "axis": null},
        "y": {"field": "stress", "type": "quantitative"},
        "text": {"field": "text"}
      }
    },
    {
      "data": {"name": "subscripts"},
      "mark": {"type": "text", "align": "left", "baseline": "alphabetic", "font": "DejaVu Sans", "fontSize": 12.5, "dy": 8, "color": "black"},
      "encoding": {
        "x": {"field": "strain", "type": "quantitative", "axis": null},
        "y": {"field": "stress", "type": "quantitative"},
        "text": {"field": "text"}
      }
    }
  ]
}
